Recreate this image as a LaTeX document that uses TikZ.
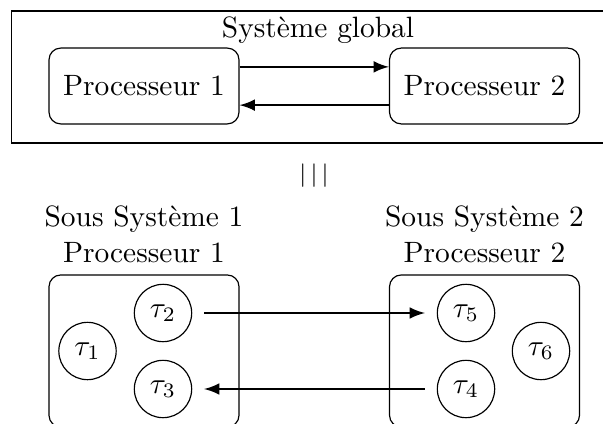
\documentclass[tikz,border=0pt]{standalone}
\usepackage{amsmath,amssymb}
\usepackage{tikz}
\usetikzlibrary{arrows, positioning, calc}

\begin{document}
\begin{tikzpicture}[
    x=0.34pt, y=-0.34pt,
    node distance=0.5pt,
    proc/.style={rectangle, draw, minimum width=64.6pt, minimum height=25.8pt, rounded corners},
    soussys/.style={rectangle, draw, minimum width=64.6pt, minimum height=51.7pt, rounded corners},
    glob/.style={rectangle, draw, minimum width=210pt, minimum height=44.9pt},
    tache/.style={circle, draw, minimum size=19.5pt, inner sep=0pt},
    arrow/.style={thick,->,>=latex}
  ]
  \useasboundingbox (0,0) rectangle (603,423);
  \clip (0,0) rectangle (603,423);

  \node (global) [glob] at (320,77) {};
  \node (titre) at (318,30) {Système global};
  \node (p1) [proc] at (144,86) {Processeur 1};
  \node (p2) [proc] at (484.5,86) {Processeur 2};
  \draw [arrow] ([yshift=6.5pt]p1.east) -- ([yshift=6.5pt]p2.west);
  \draw [arrow] ([yshift=-6.5pt]p2.west) -- ([yshift=-6.5pt]p1.east);

  \node (equiv) at (314,176) {\footnotesize $|\,|\,|$};

  \node (s1) [soussys] at (144,351) {};
  \node (s2) [soussys] at (484.5,351) {};
  \node (l1) [above=of s1, align=center] {Sous Système 1\\Processeur 1};
  \node (l2) [above=of s2, align=center] {Sous Système 2\\Processeur 2};

  \node (t1) [tache] at (87.5,351) {$\tau_1$};
  \node (t2) [tache] at (163,313) {$\tau_2$};
  \node (t3) [tache] at (163,389) {$\tau_3$};
  \node (t5) [tache] at (466,313) {$\tau_5$};
  \node (t4) [tache] at (466,389) {$\tau_4$};
  \node (t6) [tache] at (541,351) {$\tau_6$};

  \draw [arrow, shorten >=4pt, shorten <=4pt] (t2) -- (t5);
  \draw [arrow, shorten >=4pt, shorten <=4pt] (t4) -- (t3);
\end{tikzpicture}
\end{document}
